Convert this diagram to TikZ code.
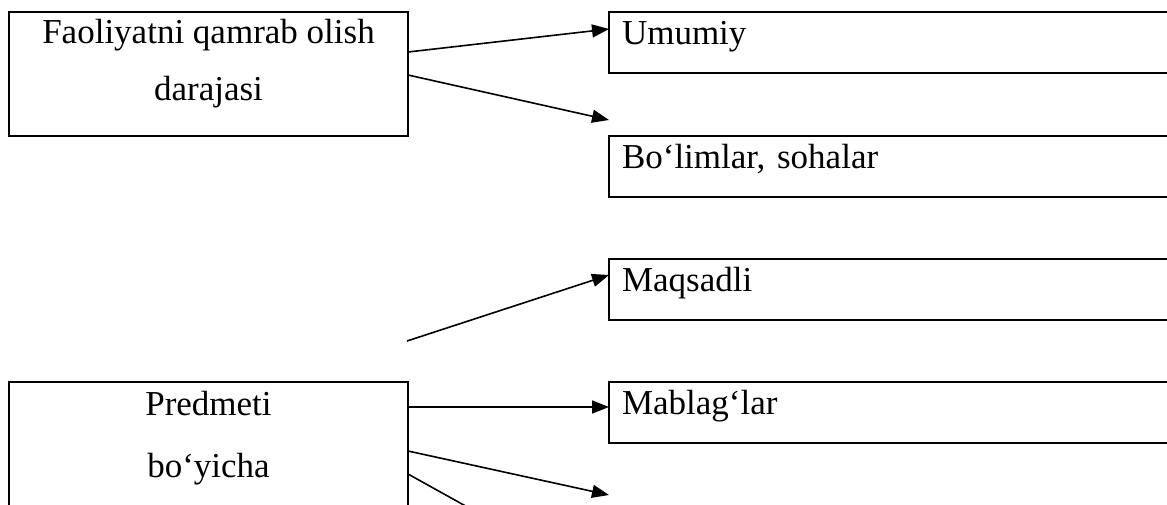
\documentclass[tikz,border=0pt]{standalone}
\usepackage{fontspec}
\setmainfont{Liberation Serif}
\usetikzlibrary{arrows.meta,calc}
\begin{document}
\begin{tikzpicture}[x=0.75pt,y=-0.75pt,
  leftbox/.style={draw, line width=1.6pt, rectangle, anchor=north west,
    inner sep=0pt, outer sep=0pt, minimum width=299.25pt},
  catbox/.style={draw, line width=1.6pt, rectangle, anchor=north west,
    outer sep=0pt, inner xsep=9.75pt, inner ysep=0pt,
    text width=420pt, align=left, text height=24pt, text depth=21.75pt,
    font=\fontsize{26.25}{30}\selectfont},
  lefttext/.style={anchor=base, inner sep=0pt, font=\fontsize{26.25}{30}\selectfont},
  link/.style={line width=1.2pt},
  arrowlink/.style={link, -{Triangle[length=12.75pt,width=9.75pt]}}
]
\useasboundingbox (0,0) rectangle (1167,504);
\clip (0,0) rectangle (1167,504);

% left-hand boxes
\node[leftbox, minimum height=93pt] (fq) at (9,12) {};
\node[lefttext] (fq1) at (208.5,43) {Faoliyatni qamrab olish};
\node[lefttext] (fq2) at (208.5,100) {darajasi};

\node[leftbox, minimum height=120pt] (pb) at (9,382) {};
\node[lefttext] (pb1) at (208.5,415) {Predmeti};
\node[lefttext] (pb2) at (208.5,477) {bo‘yicha};

% right-hand category boxes (open towards the right edge)
\node[catbox] (um) at (609,12) {Umumiy};
\node[catbox] (bo) at (609,136) {Bo‘limlar, sohalar};
\node[catbox] (mq) at (609,259) {Maqsadli};
\node[catbox] (mb) at (609,382) {Mablag‘lar};

% free ends of connectors
\coordinate (t2) at (609,120);
\coordinate (s3) at (407,341);
\coordinate (t5) at (609,495);
\coordinate (t6) at (480,514);

% connectors
\draw[arrowlink] ($(fq.north east)+(0,40)$) -- ($(um.north west)+(0,17)$);
\draw[arrowlink] ($(fq.north east)+(0,63)$) -- (t2);
\draw[arrowlink] (s3) -- ($(mq.north west)+(0,16)$);
\draw[arrowlink] ($(pb.north east)+(0,25)$) -- ($(mb.north west)+(0,25)$);
\draw[arrowlink] ($(pb.north east)+(0,69)$) -- (t5);
\draw[link] ($(pb.north east)+(0,92)$) -- (t6);
\end{tikzpicture}
\end{document}
